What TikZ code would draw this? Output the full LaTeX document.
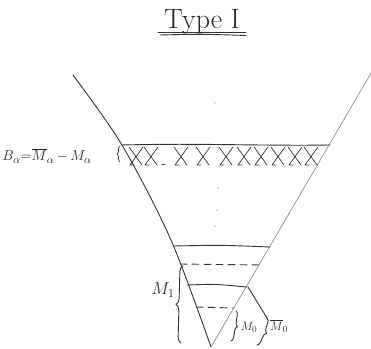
\documentclass[tikz,border=0pt]{standalone}
\usetikzlibrary{decorations.pathreplacing}
\begin{document}
\begin{tikzpicture}[x=1pt,y=-1pt,
  ink/.style={draw=black!80, line width=0.9pt, line cap=round, line join=round},
  pencil/.style={draw=black!45, line width=0.7pt},
  brc/.style={ink, decorate, decoration={brace, amplitude=#1}},
  dsh/.style={ink, dash pattern=on 7pt off 5pt},
  lbl/.style={inner sep=0pt, text=black!85}]
\useasboundingbox (0,0) rectangle (371,348);
% title
\node[lbl, anchor=base, font=\fontsize{28}{30}\selectfont] (title) at (202,28) {Type I};
\draw[ink] (158,32.5) -- (246,32.5);
\draw[ink] (160,35) .. controls (200,34) .. (246,35.5);
% funnel sides
\draw[ink] plot[smooth] coordinates {(73,75) (122,145) (171,240) (211,347)};
\coordinate (apex) at (211,347);
\coordinate (rtop) at (374,68);
\draw[pencil] (rtop) -- (apex);
% band
\draw[ink] (121,145) .. controls (200,143) and (260,146) .. (330,145);
\foreach \c in {136,151,181,203,226,244,261,278,295,311}{
  \draw[ink,line width=0.7pt] (\c-7,147) -- (\c+6,165) (\c+7,147) -- (\c-6,165) (\c-6,165) -- (\c-2,165);
}
\draw[ink,line width=0.7pt] (162,164) -- (165,164);
\draw[brc=3pt,line width=0.7pt] (120,162) -- (120,146);
\node[lbl, font=\fontsize{15}{17}\selectfont] (ba) at (47,156) {$B_\alpha{=}\overline{M}_\alpha\,{-}\,M_\alpha$};
% centre marks
\foreach \p in {(215,103),(217,148),(217,152),(218,188),(217,210),(215,226)}
  \fill[black!60] \p circle (0.7pt);
% lower levels
\draw[ink] (173,246) .. controls (220,245) .. (270,247);
\draw[dsh] (180,264) -- (262,265);
\draw[ink] (187,285) .. controls (215,284) .. (247,287);
\draw[dsh] (196,307) -- (234,308);
% braces
\draw[brc=6pt] (181,343) -- (183,266);
\node[lbl, font=\fontsize{17}{19}\selectfont] (m1) at (163,290) {$M_1$};
\draw[brc=4pt] (236,311) -- (231,341);
\node[lbl, font=\fontsize{13}{15}\selectfont] (m0) at (249,327) {$M_0$};
\coordinate (dtop) at (248,287);
\coordinate (dend) at (267,318);
\draw[ink] (dtop) -- (dend);
\draw[brc=5pt] (dend) -- (257,345);
\node[lbl, font=\fontsize{13}{15}\selectfont] (mb0) at (279,326) {$\overline{M}_0$};
\end{tikzpicture}
\end{document}
